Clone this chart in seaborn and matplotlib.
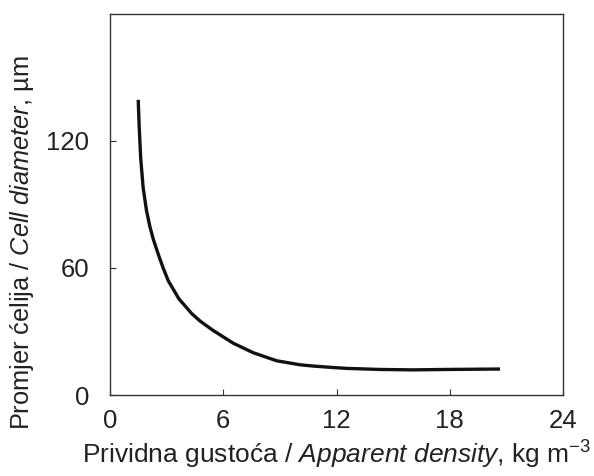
import matplotlib
matplotlib.use("Agg")
import matplotlib.pyplot as plt
import seaborn as sns
import pandas as pd

density = [1.50, 1.55, 1.63, 1.76, 1.94, 2.12, 2.30, 2.60, 2.82, 3.09, 3.65,
           4.33, 4.77, 5.03, 5.47, 6.00, 6.53, 7.59, 8.83, 10.07, 10.77, 11.83,
           12.54, 14.30, 16.05, 17.84, 20.66]
diameter = [139.4, 127.0, 112.0, 98.0, 87.0, 79.5, 73.5, 65.5, 60.0, 54.0, 45.5,
            38.5, 35.0, 33.3, 30.5, 27.5, 24.5, 20.0, 16.2, 14.3, 13.7, 13.0,
            12.6, 12.1, 11.9, 12.1, 12.3]
xticks = [0, 6, 12, 18, 24]
yticks = [0, 60, 120]

df = pd.DataFrame({"density": density, "diameter": diameter})

sns.set_style("ticks")
plt.rcParams["font.family"] = ["Liberation Sans", "DejaVu Sans"]
plt.rcParams["mathtext.fontset"] = "custom"
plt.rcParams["mathtext.rm"] = "Liberation Sans"
plt.rcParams["mathtext.it"] = "Liberation Sans:italic"
plt.rcParams["mathtext.default"] = "rm"

fig = plt.figure(figsize=(5.94, 4.76), dpi=100)
ax = fig.add_axes([0.185, 0.170, 0.763, 0.801])

sns.lineplot(data=df, x="density", y="diameter", ax=ax, color="#111111",
             linewidth=2.4, estimator=None, sort=False)
for ln in ax.get_lines():
    ln.set_solid_capstyle("butt")
    ln.set_solid_joinstyle("round")

ax.set_xlim(0, 24)
ax.set_ylim(0, 180)
ax.set_xticks(xticks)
ax.set_yticks(yticks)
ax.set_xticklabels([str(t) for t in xticks])
ax.set_yticklabels([str(t) for t in yticks])

for s in ax.spines.values():
    s.set_color("#333333")
    s.set_linewidth(1.0)
    s.set_visible(True)

ax.tick_params(axis="both", direction="in", length=4, width=0.8, colors="#333333",
               labelcolor="#222222", labelsize=18.5)
ax.tick_params(axis="x", pad=10)
ax.tick_params(axis="y", pad=15)

ax.set_xlabel(r"Prividna gustoća / $\it{Apparent\ density}$, kg m$^{-3}$",
              fontsize=19, color="#222222")
ax.set_ylabel(r"Promjer ćelija / $\it{Cell\ diameter}$, µm",
              fontsize=18.3, color="#222222")
ax.xaxis.set_label_coords(0.5, -0.115)
ax.yaxis.set_label_coords(-0.163, 0.40)

fig.savefig("out.png", dpi=100)
